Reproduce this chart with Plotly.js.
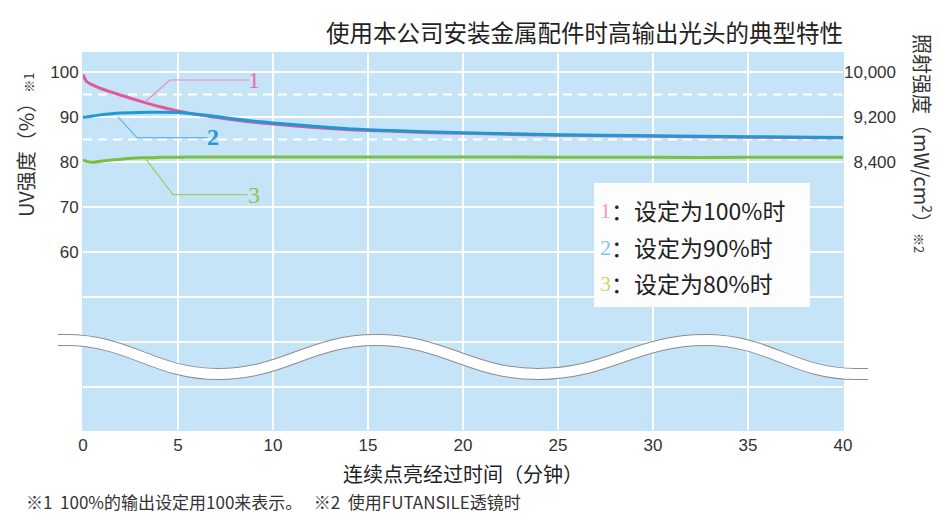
<!DOCTYPE html>
<html>
<head>
<meta charset="utf-8">
<script src="https://cdn.plot.ly/plotly-3.0.1.min.js"></script>
<style>html,body{margin:0;padding:0;background:#fff;}#chart{width:941px;height:516px;}</style>
</head>
<body>
<div id="chart"></div>
<script>
// ---- data ----
const time = [0, 0.2, 0.5, 1, 1.5, 2, 3, 4, 5, 6, 7, 8, 9, 10, 12, 14, 16, 18, 20, 25, 30, 35, 40];
const set100 = [99.4, 97.8, 97.1, 96.2, 95.5, 94.8, 93.5, 92.3, 91.3, 90.5, 89.9, 89.3, 88.8, 88.4, 87.7, 87.15, 86.85, 86.55, 86.35, 85.9, 85.7, 85.5, 85.3];
const set90  = [89.9, 90.0, 90.2, 90.5, 90.7, 90.85, 91.0, 91.05, 91.0, 90.6, 90.1, 89.55, 89.05, 88.65, 87.95, 87.35, 87.0, 86.7, 86.5, 86.05, 85.8, 85.6, 85.4];
const set80  = [80.4, 80.1, 79.9, 80.2, 80.4, 80.6, 80.9, 81.0, 81.05, 81.1, 81.1, 81.1, 81.1, 81.1, 81.1, 81.1, 81.1, 81.1, 81.1, 81.05, 81.0, 81.0, 81.0];
const xTicks = [0, 5, 10, 15, 20, 25, 30, 35, 40];
const yTickVals = [30, 40, 50, 60, 70, 80, 90, 100];
const yTickText = ['', '', '', '60', '70', '80', '90', '100'];
const y2TickVals = [8400, 9200, 10000];
const y2TickText = ['\u20078,400', '\u20079,200', '10,000'];
const dashedLevels = [85, 95];
const seriesNums = ['1', '2', '3'];
const legendLabels = ['设定为100%时', '设定为90%时', '设定为80%时'];
const titleText = '使用本公司安装金属配件时高输出光头的典型特性';
const xTitle = '连续点亮经过时间（分钟）';
const yTitle = 'UV强度（%）<span style="font-size:13px">※1</span>';
const y2Title = '照射强度（mW/cm<sup>2</sup>）<span style="font-size:13px">※2</span>';
const footnote = '※1  100%的输出设定用100来表示。   ※2  使用FUTANSILE透镜时';

// ---- styling / layout ----
const W = 941, H = 516;
const M = {l: 83, r: 98, t: 53, b: 86};
const pw = W - M.l - M.r, ph = H - M.t - M.b;
const px2x = p => (p - M.l) / pw;
const py2y = p => (H - M.b - p) / ph;
const yRange = [20.4, 104.2];
const toY2 = v => 2000 + 80 * v;   // 100% = 10,000 mW/cm2, 90% = 9,200
const lineColors = ['#e2589b', '#1f98d6', '#7bbf3c'];
const calloutColors = ['#ea8cbc', '#5fb8e4', '#9bcd62'];
const numColors = ['#e26ea8', '#2a9ad6', '#8cc44f'];
const legNumColors = ['#ee9cc4', '#7cc8ee', '#c6d96c'];
const bg = '#c6e4f7';

const traces = [
  {x: time, y: set100, mode: 'lines', line: {color: lineColors[0], width: 3, shape: 'spline', smoothing: 0.6}},
  {x: time, y: set90,  mode: 'lines', line: {color: lineColors[1], width: 3, shape: 'spline', smoothing: 0.6}},
  {x: time, y: set80,  mode: 'lines', line: {color: lineColors[2], width: 3, shape: 'spline', smoothing: 0.6}},
  {x: [0, 40], y: yRange.map(toY2), yaxis: 'y2', mode: 'lines', line: {width: 0}, hoverinfo: 'skip'}
];

const shapes = [];
dashedLevels.forEach(v => shapes.push({type: 'line', xref: 'paper', yref: 'y', x0: 0, x1: 1, y0: v, y1: v,
  line: {color: '#ffffff', width: 2, dash: '9px,6px'}, layer: 'below'}));

// callout leader lines (data coordinates)
const callouts = [
  [[3.26, 93.3], [4.58, 98.2], [8.75, 98.2]],
  [[1.84, 90.0], [2.84, 85.4], [6.55, 85.4]],
  [[3.26, 80.9], [4.74, 72.7], [8.65, 72.7]]
];
callouts.forEach((pts, i) => shapes.push({type: 'path', xref: 'x', yref: 'y',
  path: 'M' + pts.map(p => p[0] + ',' + p[1]).join(' L'), line: {color: calloutColors[i], width: 1.2}, layer: 'above'}));

// axis-break wave (pixel nodes converted to paper coords)
const nodes = [[58,340],[66,340],[218,374],[376,340],[538,374],[706,340],[856,374],[868,374]];
let d = 'M' + px2x(nodes[0][0]) + ',' + py2y(nodes[0][1]);
for (let i = 1; i < nodes.length; i++) {
  const [ax, ay] = nodes[i - 1], [bx, by] = nodes[i];
  if (ay === by) d += ' L' + px2x(bx) + ',' + py2y(by);
  else {
    const k = (bx - ax) * 0.42;
    d += ' C' + px2x(ax + k) + ',' + py2y(ay) + ' ' + px2x(bx - k) + ',' + py2y(by) + ' ' + px2x(bx) + ',' + py2y(by);
  }
}
shapes.push({type: 'path', xref: 'paper', yref: 'paper', path: d, line: {color: '#8c8c8c', width: 12}, layer: 'above'});
shapes.push({type: 'path', xref: 'paper', yref: 'paper', path: d, line: {color: '#ffffff', width: 10}, layer: 'above'});

// legend box
shapes.push({type: 'rect', xref: 'paper', yref: 'paper', x0: px2x(594), x1: px2x(810), y0: py2y(307), y1: py2y(183),
  fillcolor: '#fdfdfd', line: {width: 0}, layer: 'above'});

const annotations = [];
// callout numerals
const numPos = [[9.0, 98.2], [6.85, 85.6], [9.0, 72.7]];
seriesNums.forEach((n, i) => annotations.push({x: numPos[i][0], y: numPos[i][1], xref: 'x', yref: 'y', text: n,
  showarrow: false, xanchor: 'center', yanchor: 'middle',
  font: {family: 'Liberation Serif, DejaVu Serif, serif', size: 24, color: numColors[i], weight: i === 1 ? 700 : 400}}));
// legend rows
const rowY = [210, 247, 283];
seriesNums.forEach((n, i) => {
  annotations.push({x: px2x(605), y: py2y(rowY[i]), xref: 'paper', yref: 'paper', text: n, showarrow: false,
    xanchor: 'center', yanchor: 'middle', font: {family: 'Liberation Serif, serif', size: 22, color: legNumColors[i]}});
  annotations.push({x: px2x(609), y: py2y(rowY[i]), xref: 'paper', yref: 'paper', text: '：' + legendLabels[i], showarrow: false,
    xanchor: 'left', yanchor: 'middle', font: {family: 'Noto Sans CJK SC, sans-serif', size: 23, color: '#222'}});
});
// axis titles, footnote
annotations.push({x: px2x(25), y: py2y(145), xref: 'paper', yref: 'paper', text: yTitle, textangle: -90, showarrow: false,
  xanchor: 'center', yanchor: 'middle', font: {family: 'Noto Sans CJK SC, sans-serif', size: 20, color: '#333'}});
annotations.push({x: px2x(923), y: py2y(143), xref: 'paper', yref: 'paper', text: y2Title, textangle: 90, showarrow: false,
  xanchor: 'center', yanchor: 'middle', font: {family: 'Noto Sans CJK SC, sans-serif', size: 20, color: '#333'}});
annotations.push({x: 0.5, y: py2y(474), xref: 'paper', yref: 'paper', text: xTitle, showarrow: false,
  xanchor: 'center', yanchor: 'middle', font: {family: 'Noto Sans CJK SC, sans-serif', size: 20, color: '#222'}});
annotations.push({x: px2x(24), y: py2y(501), xref: 'paper', yref: 'paper', text: footnote, showarrow: false,
  xanchor: 'left', yanchor: 'middle', font: {family: 'Noto Sans CJK SC, sans-serif', size: 17, color: '#333'}});

const axFont = {family: 'Liberation Sans, Arial, sans-serif', size: 17, color: '#333'};
const layout = {
  width: W, height: H, margin: M,
  paper_bgcolor: '#ffffff', plot_bgcolor: bg,
  showlegend: false, hovermode: false,
  title: {text: titleText, x: 843 / W, xanchor: 'right', xref: 'container', y: 1 - 34 / H, yanchor: 'middle',
    font: {family: 'Noto Sans CJK SC, sans-serif', size: 23.5, color: '#222'}},
  xaxis: {range: [0, 40], tickvals: xTicks, ticktext: xTicks.map(String), showgrid: true, gridcolor: '#ffffff', gridwidth: 1.5,
    zeroline: false, showline: true, linecolor: bg, mirror: true, ticks: '', tickfont: axFont, fixedrange: true},
  yaxis: {range: yRange, tickvals: yTickVals, ticktext: yTickText, showgrid: true, gridcolor: '#ffffff', gridwidth: 2,
    zeroline: false, showline: true, linecolor: bg, mirror: true, ticks: '', tickfont: axFont, fixedrange: true},
  yaxis2: {range: yRange.map(toY2), overlaying: 'y', side: 'right', tickvals: y2TickVals, ticktext: y2TickText,
    showgrid: false, zeroline: false, showline: false, ticks: '', tickfont: axFont, fixedrange: true},
  shapes: shapes, annotations: annotations
};
Plotly.newPlot('chart', traces, layout, {staticPlot: true, displayModeBar: false});
</script>
</body>
</html>
